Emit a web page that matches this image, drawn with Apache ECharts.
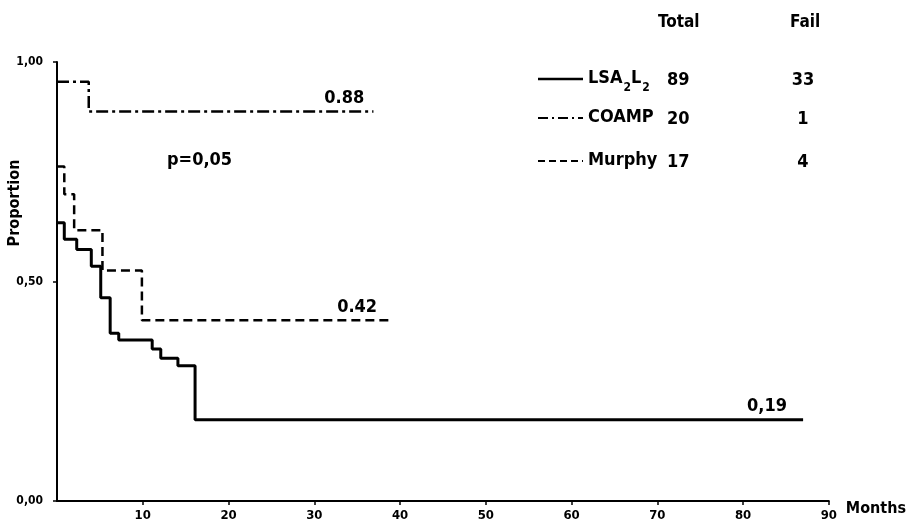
<!DOCTYPE html>
<html>
<head>
<meta charset="utf-8">
<script src="https://cdn.jsdelivr.net/npm/echarts@6/dist/echarts.min.js"></script>
<style>html,body{margin:0;padding:0;background:#fff;}#c{width:909px;height:525px;}</style>
</head>
<body>
<div id="c"></div>
<script>
// ---- data ----
var lsaMonths   = [0, 0.85, 2.3, 4.0, 5.1, 6.2, 7.2, 11.1, 12.1, 14.1, 16.1, 87];
var lsaSurv     = [0.634, 0.596, 0.573, 0.535, 0.463, 0.382, 0.367, 0.346, 0.325, 0.308, 0.185, 0.185];
var coampMonths = [0, 3.7, 36.9];
var coampSurv   = [0.955, 0.887, 0.887];
var murphyMonths= [0, 0.85, 2.0, 5.3, 9.9, 39];
var murphySurv  = [0.762, 0.699, 0.617, 0.525, 0.412, 0.412];
var xTicks = [0, 10, 20, 30, 40, 50, 60, 70, 80, 90];
var yTicks = [0, 0.5, 1];
var legendNames = ['LSA{s|2}L{s|2}', 'COAMP', 'Murphy'];
var totals = ['89', '20', '17'];
var fails  = ['33', '1', '4'];
var endLabels = {lsa: '0,19', coamp: '0.88', murphy: '0.42'};
var labelAt = {lsa: [82.8, 0.185], coamp: [33.5, 0.887], murphy: [35.0, 0.412]};

var FONT = '"Liberation Sans Narrow", "DejaVu Sans Condensed", sans-serif';
function zip(a, b) { return a.map(function (v, i) { return [v, b[i]]; }); }

var chart = echarts.init(document.getElementById('c'));

function mp(key) {
  return {
    symbol: 'circle', symbolSize: 0,
    data: [{coord: labelAt[key]}],
    label: {show: true, position: 'top', distance: 4, formatter: endLabels[key],
      color: '#000', fontFamily: FONT, fontWeight: 'bold', fontSize: 18}
  };
}

var legendStyles = [
  {lineDash: null, w: 2.5},
  {lineDash: [10, 4, 2, 4], w: 2},
  {lineDash: [7, 4], w: 2}
];
var rowsY = [80, 119, 162];
var graphics = [
  {type: 'text', left: 658, top: 14, style: {text: 'Total', font: 'bold 17px ' + FONT, fill: '#000'}},
  {type: 'text', left: 790, top: 14, style: {text: 'Fail', font: 'bold 17px ' + FONT, fill: '#000'}},
  {type: 'text', left: 167, top: 151, style: {text: 'p=0,05', font: 'bold 18px ' + FONT, fill: '#000'}},
  {type: 'text', x: 15, y: 203, rotation: Math.PI / 2,
    style: {text: 'Proportion', font: 'bold 16px ' + FONT, fill: '#000', align: 'center', verticalAlign: 'middle'}}
];
legendNames.forEach(function (n, i) {
  var y = rowsY[i];
  graphics.push({type: 'line', shape: {x1: 538, y1: y - 1, x2: 583, y2: y - 1},
    style: {stroke: '#000', lineWidth: legendStyles[i].w, lineDash: legendStyles[i].lineDash}});
  graphics.push({type: 'text', x: 588, y: y - 11,
    style: {text: '{m|' + n.replace(/\{s\|2\}/g, '}{s|2}{m|') + '}', fill: '#000',
      rich: {m: {font: 'bold 18px ' + FONT, lineHeight: 22, verticalAlign: 'top'},
             s: {font: 'bold 12px ' + FONT, lineHeight: 12, padding: [16, 0, 0, 1]}}}});
  graphics.push({type: 'text', x: 667, y: y, style: {text: totals[i], font: 'bold 18px ' + FONT, fill: '#000', verticalAlign: 'middle'}});
  graphics.push({type: 'text', x: 803, y: y, style: {text: fails[i], font: 'bold 18px ' + FONT, fill: '#000', align: 'center', verticalAlign: 'middle'}});
});

chart.setOption({
  animation: false,
  backgroundColor: '#fff',
  grid: {left: 57, right: 76, top: 62, bottom: 24, containLabel: false},
  xAxis: {
    type: 'value', min: xTicks[0], max: xTicks[xTicks.length - 1], interval: 10,
    name: 'Months', nameLocation: 'end', nameGap: 17,
    nameTextStyle: {color: '#000', fontFamily: FONT, fontWeight: 'bold', fontSize: 16, verticalAlign: 'top', padding: [0, 0, 0, 0]},
    axisLine: {lineStyle: {color: '#000', width: 2}},
    axisTick: {show: true, length: 4, lineStyle: {color: '#000', width: 1.5}},
    axisLabel: {showMinLabel: false, color: '#000', fontFamily: FONT, fontWeight: 'bold', fontSize: 13, margin: 8},
    splitLine: {show: false}
  },
  yAxis: {
    type: 'value', min: yTicks[0], max: yTicks[yTicks.length - 1], interval: 0.5,
    axisLine: {show: true, lineStyle: {color: '#000', width: 2}},
    axisTick: {show: true, length: 4, lineStyle: {color: '#000', width: 1.5}},
    axisLabel: {color: '#000', fontFamily: FONT, fontWeight: 'bold', fontSize: 12, margin: 14,
      formatter: function (v) { return v.toFixed(2).replace('.', ','); }},
    splitLine: {show: false}
  },
  series: [
    {name: 'LSA2L2', type: 'line', step: 'end', showSymbol: false, symbol: 'none',
      data: zip(lsaMonths, lsaSurv), lineStyle: {color: '#000', width: 3}, markPoint: mp('lsa')},
    {name: 'COAMP', type: 'line', step: 'end', showSymbol: false, symbol: 'none',
      data: zip(coampMonths, coampSurv), lineStyle: {color: '#000', width: 2.5, type: [12, 4, 3, 4]}, markPoint: mp('coamp')},
    {name: 'Murphy', type: 'line', step: 'end', showSymbol: false, symbol: 'none',
      data: zip(murphyMonths, murphySurv), lineStyle: {color: '#000', width: 2.5, type: [9, 5]}, markPoint: mp('murphy')}
  ],
  graphic: graphics
});
</script>
</body>
</html>
